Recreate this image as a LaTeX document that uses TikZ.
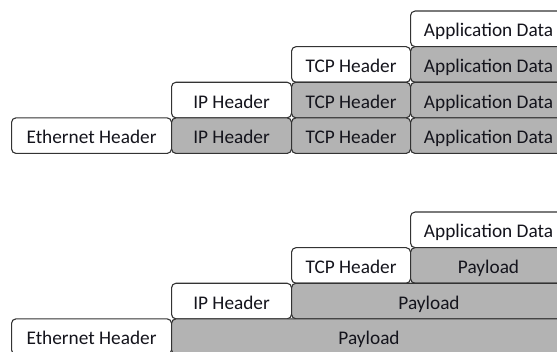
\documentclass[tikz,border=0pt]{standalone}
\usepackage{fontspec}
\setmainfont{Carlito}
\definecolor{pktgray}{HTML}{B3B3B3}
\definecolor{pkttext}{HTML}{14141C}
\begin{document}
\begin{tikzpicture}[x=1pt,y=-1pt,
  pkt/.style={draw=black!80, line width=1.1pt, rounded corners=4.5pt,
    anchor=north west, inner sep=0pt, minimum height=35.6pt,
    text height=16.2pt, text depth=0pt,
    text=pkttext, font=\fontsize{19.3}{21}\selectfont},
  hdr/.style={pkt, fill=white},
  pay/.style={pkt, fill=pktgray}]
\useasboundingbox (0,0) rectangle (557,352);
\clip (0,0) rectangle (557,352);
% ---------- top: encapsulated layers ----------
\node[hdr, minimum width=156pt] (a1) at (410,10.5) {Application Data};
\node[hdr, minimum width=119pt] (t2) at (291,46.1) {TCP Header};
\node[pay, minimum width=156pt] (a2) at (410,46.1) {Application Data};
\node[hdr, minimum width=120pt] (i3) at (171,81.7) {IP Header};
\node[pay, minimum width=119pt] (t3) at (291,81.7) {TCP Header};
\node[pay, minimum width=156pt] (a3) at (410,81.7) {Application Data};
\node[hdr, minimum width=160pt] (e4) at (11,117.3) {Ethernet Header};
\node[pay, minimum width=120pt] (i4) at (171,117.3) {IP Header};
\node[pay, minimum width=119pt] (t4) at (291,117.3) {TCP Header};
\node[pay, minimum width=156pt] (a4) at (410,117.3) {Application Data};
% ---------- bottom: payloads ----------
\node[hdr, minimum width=156pt] (b1) at (410,211.5) {Application Data};
\node[hdr, minimum width=119pt] (bt2) at (291,247.1) {TCP Header};
\node[pay, minimum width=156pt] (bp2) at (410,247.1) {Payload};
\node[hdr, minimum width=120pt] (bi3) at (171,282.7) {IP Header};
\node[pay, minimum width=275pt] (bp3) at (291,282.7) {Payload};
\node[hdr, minimum width=160pt] (be4) at (11,318.3) {Ethernet Header};
\node[pay, minimum width=395pt] (bp4) at (171,318.3) {Payload};
\end{tikzpicture}
\end{document}
